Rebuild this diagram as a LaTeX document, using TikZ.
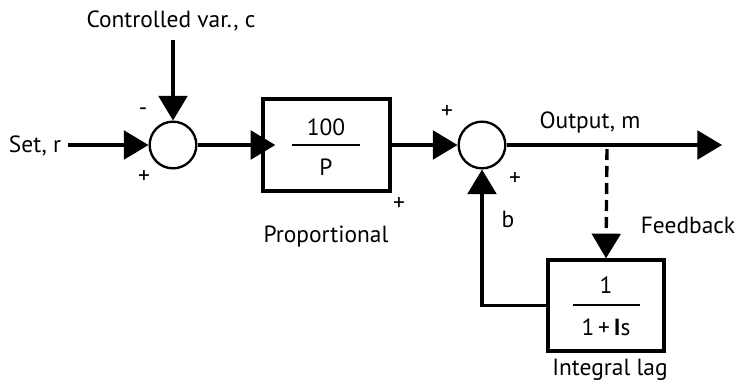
\documentclass[tikz,border=0pt]{standalone}
\usepackage{fontspec}
\setmainfont{PT Sans}
\usetikzlibrary{arrows.meta, positioning}

\begin{document}
\begin{tikzpicture}[x=0.03cm, y=-0.03cm, line width=2.9pt,
    every node/.style={font=\fontsize{20}{24}\selectfont, inner sep=0pt},
    sumpt/.style={draw, circle, minimum size=1.4cm, line width=2pt},
    block/.style={draw, minimum width=3.81cm, minimum height=2.76cm},
    sig/.style={-{Triangle[length=0.74cm, width=0.86cm]}},
    bar/.style={line width=2.4pt}]
    \useasboundingbox (0,0) rectangle (742,391);
    % Summing points and blocks
    \node[sumpt] (sum1) at (173,145) {};
    \node[block] (prop) at (326.5,145) {};
    \node[sumpt] (sum2) at (482,145) {};
    \node[block, minimum width=3.48cm, minimum height=2.73cm] (lag) at (606,305.5) {};
    % Fractions
    \node (num1) at (326,127) {100};
    \node (den1) at (326,167) {P};
    \draw[bar] (292,145) -- (360,145);
    \node (num2) at (606,285) {1};
    \node (den2) at (606,327) {1\,+\,\textbf{I}s};
    \draw[bar] (573,305) -- (640,305);
    % Labels
    \node[anchor=base] (ctrl) at (171,28) {Controlled var., c};
    \node[anchor=base] (setr) at (35,152) {Set, r};
    \node[anchor=base] (outm) at (590,128) {Output, m};
    \node[anchor=base] (fdbk) at (688,233) {Feedback};
    \node[anchor=base] (plab) at (326,242) {Proportional};
    \node[anchor=base] (ilab) at (610,375) {Integral lag};
    \node[anchor=base] (bsig) at (508,227) {b};
    % Signs
    \node (m1) at (143,112) {-};
    \node (p1) at (144,177) {+};
    \node (p2) at (399,204) {+};
    \node (p3) at (447,112) {+};
    \node (p4) at (515,179) {+};
    % Free ends
    \coordinate (setin) at (68,145);
    \coordinate (ctrlin) at (173,40);
    \coordinate (outend) at (722,145);
    \coordinate (tap) at (607,149);
    % Connectors
    \draw[sig] (setin) -- (sum1.west);
    \draw[sig] (ctrlin) -- (sum1.north);
    \draw[sig, shorten >=-0.42cm] (sum1.east) -- (prop.west);
    \draw[sig] (prop.east) -- (sum2.west);
    \draw[sig] (sum2.east) -- (outend);
    \draw[sig, dash pattern=on 0.33cm off 0.18cm] (tap) -- (lag.north);
    \draw[sig] (lag.west) -| (sum2.south);
  \end{tikzpicture}
\end{document}
